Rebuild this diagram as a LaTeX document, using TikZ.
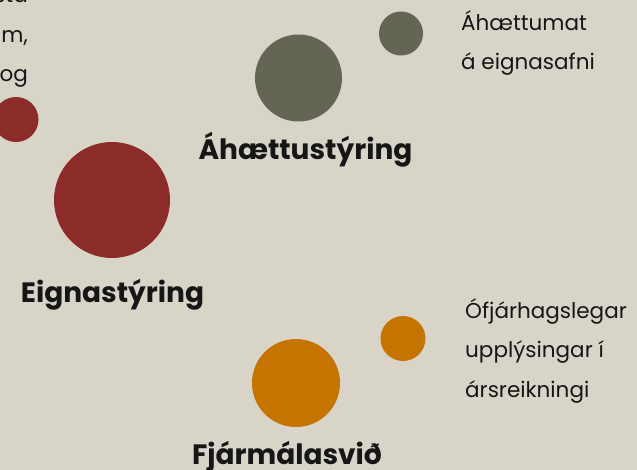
\documentclass[tikz,border=0pt]{standalone}
\usepackage{fontspec}
\setmainfont{Poppins}
\usetikzlibrary{positioning}
\definecolor{bgcream}{RGB}{216,212,200}
\definecolor{rustred}{RGB}{139,44,42}
\definecolor{olivegray}{RGB}{100,101,85}
\definecolor{amber}{RGB}{197,116,0}
\definecolor{inkblack}{RGB}{22,22,22}
\begin{document}
\begin{tikzpicture}[x=1pt,y=-1pt,
                       dot/.style={circle,inner sep=0pt,outer sep=0pt},
                       head/.style={font=\fontsize{28}{32}\selectfont\bfseries,
                                    text=inkblack,inner sep=0pt,anchor=base},
                       note/.style={font=\fontsize{21.5}{39.5}\selectfont,text=inkblack,
                                    align=left,inner sep=0pt,anchor=base west}
                      ]
   \fill[bgcream] (0,0) rectangle (637,470);
   \useasboundingbox (0,0) rectangle (637,470);
   % circles
   \node[dot,fill=rustred,minimum size=45pt] (redsmall) at (16,119.5) {};
   \node[dot,fill=rustred,minimum size=116pt] (redbig) at (112,200) {};
   \node[dot,fill=olivegray,minimum size=87pt] (graybig) at (298.5,78) {};
   \node[dot,fill=olivegray,minimum size=44pt] (graysmall) at (401,33.5) {};
   \node[dot,fill=amber,minimum size=88pt] (orangebig) at (296,383) {};
   \node[dot,fill=amber,minimum size=45pt] (orangesmall) at (403,338.5) {};
   % labels (base = last line)
   \node[head] (risk) at (305.5,160) {Áhættustýring};
   \node[head] (assets) at (112.5,302) {Eignastýring};
   \node[head] (finance) at (287,464) {Fjármálasvið};
   \node[note] (risknote) at (461,70) {Áhættumat\\á eignasafni};
   \node[note] (financenote) at (465,397) {Ófjárhagslegar\\upplýsingar í\\ársreikningi};
   \node[note,align=right,anchor=base east] (assetsnote) at (28,82) {sta\\m,\\og};
 \end{tikzpicture}
\end{document}
